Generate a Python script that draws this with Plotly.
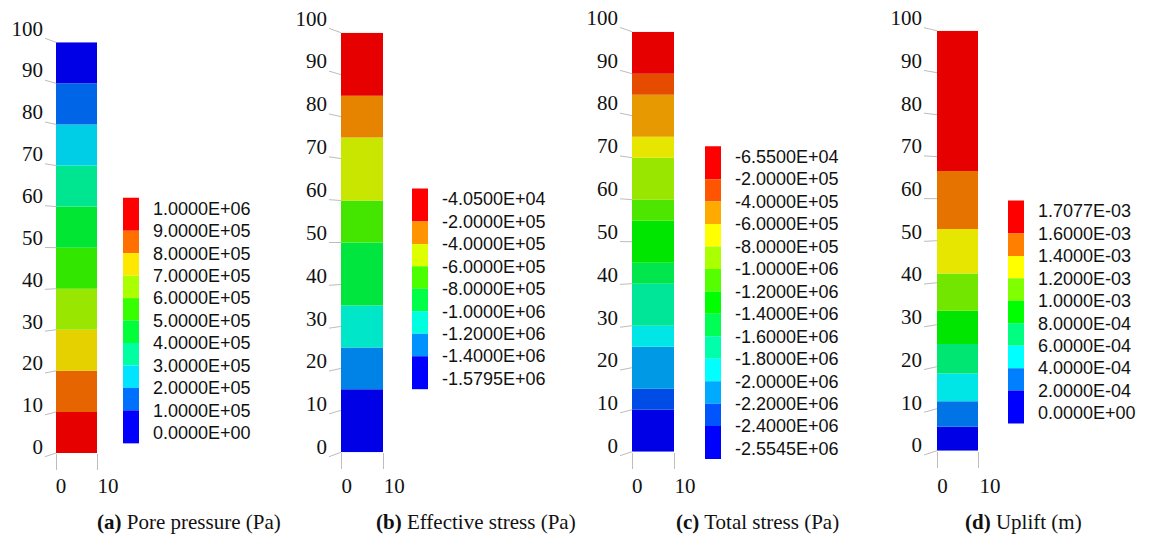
import plotly.graph_objects as go

W, H = 1151, 540

# ---------------- data ----------------
# (a) pore pressure: contour levels (legend, top to bottom) and band edges along the column (m)
pore_labels = ["1.0000E+06", "9.0000E+05", "8.0000E+05", "7.0000E+05", "6.0000E+05", "5.0000E+05",
               "4.0000E+05", "3.0000E+05", "2.0000E+05", "1.0000E+05", "0.0000E+00"]
pore_colors = ["#FF0000", "#FF7000", "#FFE800", "#AAFF00", "#38FF00", "#00FF38",
               "#00FFA0", "#00E4FF", "#0070FF", "#0000FF"]
pore_edges = [0, 10, 20, 30, 40, 50, 60, 70, 80, 90, 100]

# (b) effective stress
eff_labels = ["-4.0500E+04", "-2.0000E+05", "-4.0000E+05", "-6.0000E+05", "-8.0000E+05",
              "-1.0000E+06", "-1.2000E+06", "-1.4000E+06", "-1.5795E+06"]
eff_colors = ["#FF0000", "#FF9300", "#DEFF00", "#4CFF00", "#00FF46", "#00FFDE", "#0092FF", "#0000FF"]
eff_edges = [0, 15, 25, 35, 50, 60, 75, 85, 100]

# (c) total stress
tot_labels = ["-6.5500E+04", "-2.0000E+05", "-4.0000E+05", "-6.0000E+05", "-8.0000E+05",
              "-1.0000E+06", "-1.2000E+06", "-1.4000E+06", "-1.6000E+06", "-1.8000E+06",
              "-2.0000E+06", "-2.2000E+06", "-2.4000E+06", "-2.5545E+06"]
tot_colors = ["#FF0000", "#FF5500", "#FFAA00", "#FFFF00", "#AAFF00", "#55FF00", "#00FF00",
              "#00FF55", "#00FFAA", "#00FFFF", "#00AAFF", "#0055FF", "#0000FF"]
tot_edges = [0, 10, 15, 25, 30, 40, 45, 55, 60, 70, 75, 85, 90, 100]

# (d) uplift
upl_labels = ["1.7077E-03", "1.6000E-03", "1.4000E-03", "1.2000E-03", "1.0000E-03",
              "8.0000E-04", "6.0000E-04", "4.0000E-04", "2.0000E-04", "0.0000E+00"]
upl_colors = ["#FF0000", "#FF8000", "#FFFF00", "#80FF00", "#00FF00", "#00FF80",
              "#00FFFF", "#0080FF", "#0000FF"]
upl_edges = [0, 5.7, 11.8, 18.4, 25.4, 33.3, 42.2, 52.8, 66.6, 100]

captions = ["<b>(a)</b> Pore pressure (Pa)", "<b>(b)</b> Effective stress (Pa)",
            "<b>(c)</b> Total stress (Pa)", "<b>(d)</b> Uplift (m)"]

y_ticks = [0, 10, 20, 30, 40, 50, 60, 70, 80, 90, 100]
x_ticks = [0, 10]

# ---------------- layout geometry (pixels) ----------------
panels = [
    dict(labels=pore_labels, colors=pore_colors, edges=pore_edges, max_at_bottom=True,
         col_x=(56, 97), col_y=(453, 42.3), out_x=45, out_y=(456.7, 38.3),
         lab_x=(61, 108), cb_x=(123, 139), row0=208.3, cap_x=189),
    dict(labels=eff_labels, colors=eff_colors, edges=eff_edges, max_at_bottom=False,
         col_x=(341, 383), col_y=(452.3, 32.7), out_x=329, out_y=(456.7, 28.3),
         lab_x=(346.7, 394.3), cb_x=(412, 428), row0=199, cap_x=476),
    dict(labels=tot_labels, colors=tot_colors, edges=tot_edges, max_at_bottom=False,
         col_x=(632, 674), col_y=(451.7, 31.7), out_x=620, out_y=(455.7, 27.5),
         lab_x=(637.3, 685), cb_x=(705, 721), row0=156.7, cap_x=757),
    dict(labels=upl_labels, colors=upl_colors, edges=upl_edges, max_at_bottom=False,
         col_x=(937, 978), col_y=(450.7, 30.7), out_x=924, out_y=(455, 27.7),
         lab_x=(942.5, 990), cb_x=(1008, 1024), row0=211, cap_x=1024),
]
ROW = 22.45        # legend row pitch
EDGE = 0.47        # legend end blocks overhang (in rows)
XLAB_Y = 471       # line position of x tick label axis

SERIF = "Liberation Serif, Times New Roman, serif"
SANS = "Liberation Sans, Arial, sans-serif"
GRID = "#bdbdbd"


def px(x):
    return x / W


def py(y):
    return 1 - y / H


def shade(hex_color, f=0.9):
    h = hex_color.lstrip("#")
    r, g, b = (int(h[i:i + 2], 16) for i in (0, 2, 4))
    return "#%02X%02X%02X" % (round(r * f), round(g * f), round(b * f))


def axkey(letter, i):
    return f"{letter}axis" + ("" if i == 1 else str(i))


def axref(letter, i):
    return letter + ("" if i == 1 else str(i))


fig = go.Figure()
axes = {}
shapes = []
annotations = []

for p, P in enumerate(panels):
    d_i, l_i, g_i = 3 * p + 1, 3 * p + 2, 3 * p + 3

    # ---- contour column ----
    edges = P["edges"]
    band_cols = P["colors"] if P["max_at_bottom"] else P["colors"][::-1]
    bases = edges[:-1]
    spans = [edges[k + 1] - edges[k] for k in range(len(edges) - 1)]
    fig.add_trace(go.Bar(
        x=[5] * len(spans), base=bases, y=spans, width=10,
        marker=dict(color=[shade(c) for c in band_cols], line=dict(width=0)),
        xaxis=axref("x", d_i), yaxis=axref("y", d_i),
        showlegend=False, hoverinfo="skip"))
    axes[axkey("x", d_i)] = dict(
        domain=[px(P["col_x"][0]), px(P["col_x"][1])], range=[0, 10], anchor=axref("y", d_i),
        tickvals=x_ticks, ticks="outside", ticklen=16, tickcolor=GRID, tickwidth=1,
        showticklabels=False, showgrid=False, zeroline=False, showline=False, automargin=False)
    axes[axkey("y", d_i)] = dict(
        domain=[py(P["col_y"][0]), py(P["col_y"][1])], range=[0, 100], anchor=axref("x", d_i),
        showticklabels=False, ticks="", showgrid=False, zeroline=False, showline=False,
        automargin=False)

    # ---- tick label axes (projected frame) ----
    fig.add_trace(go.Scatter(x=[0], y=[0], mode="markers", marker=dict(opacity=0),
                             xaxis=axref("x", l_i), yaxis=axref("y", l_i),
                             showlegend=False, hoverinfo="skip"))
    axes[axkey("x", l_i)] = dict(
        domain=[px(P["lab_x"][0]), px(P["lab_x"][1])], range=[0, 10], anchor="free",
        position=py(XLAB_Y), tickvals=x_ticks, ticks="", showgrid=False, zeroline=False,
        showline=False, automargin=False, tickfont=dict(family=SERIF, size=21, color="#111"))
    axes[axkey("y", l_i)] = dict(
        domain=[py(P["out_y"][0]), py(P["out_y"][1])], range=[0, 100], anchor="free",
        position=px(P["out_x"]), tickvals=y_ticks, ticks="", showgrid=False, zeroline=False,
        showline=False, ticklabelshift=-10, ticklabelstandoff=2, automargin=False,
        tickfont=dict(family=SERIF, size=21, color="#111"))

    # slanted tick strokes from the projected frame to the column edge
    for v in y_ticks:
        y_out = P["out_y"][0] + (P["out_y"][1] - P["out_y"][0]) * v / 100
        y_col = P["col_y"][0] + (P["col_y"][1] - P["col_y"][0]) * v / 100
        shapes.append(dict(type="line", xref="paper", yref="paper",
                           x0=px(P["out_x"]), y0=py(y_out), x1=px(P["col_x"][0]), y1=py(y_col),
                           line=dict(color=GRID, width=1), layer="below"))

    # ---- discrete legend bar ----
    n = len(P["labels"])
    nb = n - 1
    tops = [k for k in range(nb)]
    tops[0] = -EDGE
    bottoms = [k + 1 for k in range(nb)]
    bottoms[-1] = n - 1 + EDGE
    fig.add_trace(go.Bar(
        x=[0.5] * nb, base=tops, y=[b - t for t, b in zip(tops, bottoms)], width=1,
        marker=dict(color=P["colors"], line=dict(width=0)),
        xaxis=axref("x", g_i), yaxis=axref("y", g_i),
        showlegend=False, hoverinfo="skip"))
    y_top = P["row0"] - 0.5 * ROW
    y_bot = P["row0"] + (n - 0.5) * ROW
    axes[axkey("x", g_i)] = dict(
        domain=[px(P["cb_x"][0]), px(P["cb_x"][1])], range=[0, 1], anchor=axref("y", g_i),
        visible=False, automargin=False)
    axes[axkey("y", g_i)] = dict(
        domain=[py(y_bot), py(y_top)], range=[n - 0.5, -0.5], anchor=axref("x", g_i),
        side="right", tickvals=list(range(n)), ticktext=P["labels"], ticks="",
        showgrid=False, zeroline=False, showline=False, ticklabelstandoff=13, automargin=False,
        tickfont=dict(family=SANS, size=18, color="#111"))

    annotations.append(dict(text=captions[p], x=px(P["cap_x"]), y=py(522), xref="paper",
                            yref="paper", showarrow=False, xanchor="center", yanchor="middle",
                            font=dict(family=SERIF, size=21, color="#111")))

fig.update_layout(
    template="none",
    width=W, height=H, margin=dict(l=0, r=0, t=0, b=0, pad=0),
    paper_bgcolor="white", plot_bgcolor="rgba(0,0,0,0)",
    shapes=shapes, annotations=annotations, **axes)

fig.write_html("out.html")
